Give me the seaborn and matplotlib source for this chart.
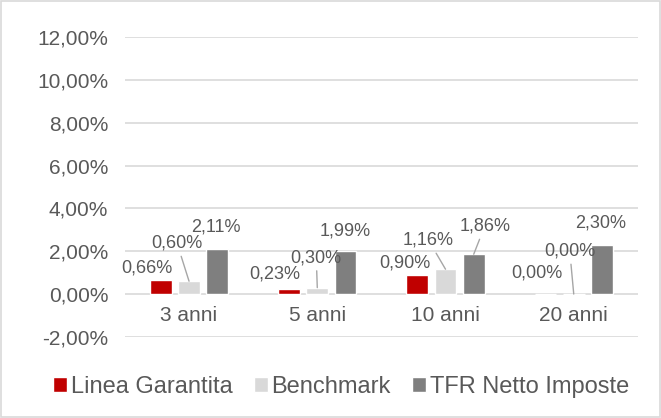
import pandas as pd
import matplotlib
matplotlib.use("Agg")
import matplotlib.pyplot as plt
import seaborn as sns
from matplotlib.patches import Rectangle

# Data
categories = ["3 anni", "5 anni", "10 anni", "20 anni"]
series = ["Linea Garantita", "Benchmark", "TFR Netto Imposte"]
linea_garantita = [0.66, 0.23, 0.90, 0.00]
benchmark = [0.60, 0.30, 1.16, 0.00]
tfr_netto = [2.11, 1.99, 1.86, 2.30]
y_ticks = [-2, 0, 2, 4, 6, 8, 10, 12]

colors = ["#C00000", "#D9D9D9", "#7F7F7F"]
text_col = "#595959"

# label offsets (pixels) from bar top, and whether a leader line is drawn
label_offsets = [
    [(-14, 12, False), (-14, 15, False), (-12, 12, False), (-9, 21, False)],
    [(-12, 38, True), (-1, 30, True), (-17, 29, True), (-4, 43, True)],
    [(-1, 22, False), (0, 20, False), (11, 28, True), (-1, 22, False)],
]

df = pd.DataFrame({
    "cat": categories * 3,
    "serie": [s for s in series for _ in categories],
    "val": linea_garantita + benchmark + tfr_netto,
})

sns.set_theme(style="white")
plt.rcParams["font.family"] = ["Liberation Sans", "DejaVu Sans"]

fig = plt.figure(figsize=(6.61, 4.18), dpi=100)
ax = fig.add_axes([0.189, 0.194, 0.776, 0.7175])

sns.barplot(data=df, x="cat", y="val", hue="serie", hue_order=series,
            order=categories, palette=colors, width=0.66, gap=0.23,
            saturation=1, ax=ax, legend=True)

ax.set_ylim(-2, 12)
ax.set_xlim(-0.5, 3.5)
ax.set_yticks(y_ticks)
ax.set_yticklabels([f"{t:,.2f}%".replace(".", ",") for t in y_ticks],
                   fontsize=15, color=text_col)
ax.tick_params(axis="y", length=0, pad=12)
ax.set_xticks([])
ax.set_xlabel("")
ax.set_ylabel("")
for s in ax.spines.values():
    s.set_visible(False)
ax.grid(axis="y", color="#D9D9D9", linewidth=1.2)
ax.set_axisbelow(True)

for i, c in enumerate(categories):
    ax.text(i, -1, c, ha="center", va="center", fontsize=15, color=text_col)

for si, cont in enumerate(ax.containers):
    for ci, bar in enumerate(cont):
        dx, dy, line = label_offsets[si][ci]
        xb = bar.get_x() + bar.get_width() / 2
        yb = bar.get_height()
        lbl = f"{yb:.2f}%".replace(".", ",")
        ax.annotate(lbl, xy=(xb, yb), xytext=(dx, dy), textcoords="offset pixels",
                    ha="center", va="center", fontsize=13, color=text_col,
                    arrowprops=dict(arrowstyle="-", color="#A6A6A6", lw=1,
                                    shrinkA=1, shrinkB=0) if line else None)

handles, labels = ax.get_legend_handles_labels()
ax.get_legend().remove()
fig.legend(handles, labels, loc="center", bbox_to_anchor=(0.516, 0.074), ncol=3,
           frameon=False, fontsize=17, handlelength=0.6, handleheight=0.6,
           handletextpad=0.15, columnspacing=0.9, labelcolor=text_col)

fig.patches.append(Rectangle((0.002, 0.002), 0.996, 0.996, transform=fig.transFigure,
                             fill=False, edgecolor="#D9D9D9", linewidth=1.2))

fig.savefig("out.png", dpi=100)
